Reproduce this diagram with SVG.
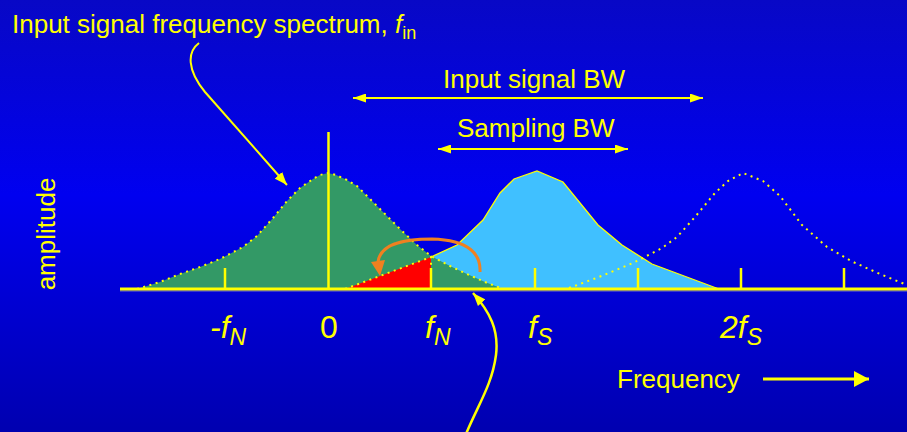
<svg xmlns="http://www.w3.org/2000/svg" width="907" height="432" viewBox="0 0 907 432">
<defs>
<linearGradient id="bg" x1="0" y1="0" x2="0" y2="1">
<stop offset="0" stop-color="#0808C6"/>
<stop offset="0.45" stop-color="#0000F0"/>
<stop offset="1" stop-color="#0000B0"/>
</linearGradient>
<marker id="ah" markerUnits="userSpaceOnUse" markerWidth="13" markerHeight="9" refX="13" refY="4.5" orient="auto-start-reverse"><path d="M0,0 L13,4.5 L0,9 z" fill="#FFFF00"/></marker>
<marker id="ah2" markerUnits="userSpaceOnUse" markerWidth="13" markerHeight="10" refX="13" refY="5" orient="auto"><path d="M0,0 L13,5 L0,10 z" fill="#FFFF00"/></marker>
<marker id="ah3" markerUnits="userSpaceOnUse" markerWidth="15" markerHeight="16" refX="15" refY="8" orient="auto"><path d="M0,0 L15,8 L0,16 z" fill="#FFFF00"/></marker>
</defs>
<style>
text{font-family:"Liberation Sans",Arial,sans-serif;fill:#FFFF00}
.t{font-size:26px}
.ax{font-size:32px}
.sub{font-size:23px;font-style:italic}
.it{font-style:italic}
.yl{stroke:#FFFF00;fill:none}
.dot{stroke:#FFFF00;fill:none;stroke-width:2;stroke-dasharray:2 4.5}
.tick{stroke:#FFFF00;stroke-width:2.5}
</style>
<rect width="907" height="432" fill="url(#bg)"/>

<g id="spectrum-fs">
<polygon points="345,289 431,257 457,245 483,220 500,193 514,179 537,171 563,182 598,225 622,245 652,264 719,289" fill="#40C0FF"/>
<polyline class="yl" stroke-width="1.3" points="431,257 457,245 483,220 500,193 514,179 537,171 563,182 598,225 622,245 652,264 719,289"/>
</g>

<g id="spectrum-base">
<path id="gcurve" d="M137,289 L160,282 L180,274 L200,267 L220,259 L243,247 L257,236 L273,218 L287,201 L300,188 L313,179 L320,175 L328,173 L336,175 L347,180 L357,186 L367,196 L383,212 L400,229 L417,245 L431,256 L450,266 L467,274 L485,282 L503,289 Z" fill="#339966"/>
</g>

<g id="alias">
<polygon points="345,289 431,257 431,289" fill="#FF0000"/>
<polyline class="dot" points="345,289 431,257 431,289"/>
</g>

<g id="spectrum-base-outline">
<polyline class="dot" points="137,289 160,282 180,274 200,267 220,259 243,247 257,236 273,218 287,201 300,188 313,179 320,175 328,173 336,175 347,180 357,186 367,196 383,212 400,229 417,245 431,256 450,266 467,274 485,282 503,289"/>
</g>

<g id="spectrum-2fs">
<polyline class="dot" points="569,288 599,277 633,263 662,248 677,237 695,217 715,193 728,181 743,173 763,181 780,196 802,225 827,247 851,261 880,274 907,285"/>
</g>

<g id="axis">
<line x1="120" y1="291" x2="907" y2="291" stroke="#7070C0" stroke-width="1"/>
<line x1="120" y1="289" x2="907" y2="289" stroke="#FFFF00" stroke-width="3"/>
<line x1="328.5" y1="132" x2="328.5" y2="289" stroke="#FFFF00" stroke-width="2.5"/>
<line class="tick" x1="225" y1="268" x2="225" y2="289"/>
<line class="tick" x1="431" y1="268" x2="431" y2="289"/>
<line class="tick" x1="535" y1="268" x2="535" y2="289"/>
<line class="tick" x1="638" y1="268" x2="638" y2="289"/>
<line class="tick" x1="741" y1="268" x2="741" y2="289"/>
<line class="tick" x1="844" y1="268" x2="844" y2="289"/>
</g>

<g id="fold-arrow">
<path d="M480,272 C481,255 470,240 432,239 C400,239 380,245 378,262" fill="none" stroke="#F08020" stroke-width="3"/>
<polygon points="371,262 385,260 380,276" fill="#F08020"/>
</g>

<g id="connectors">
<line class="yl" stroke-width="2" x1="353" y1="98" x2="703" y2="98" marker-start="url(#ah)" marker-end="url(#ah)"/>
<line class="yl" stroke-width="2" x1="438" y1="149" x2="628" y2="149" marker-start="url(#ah)" marker-end="url(#ah)"/>
<path class="yl" stroke-width="2" d="M199,43 C187,52 187,70 205,92 L287,185" marker-end="url(#ah2)"/>
<path class="yl" stroke-width="2.5" d="M466,434 C478,405 492,385 496,355 C499,330 490,312 473,293" marker-end="url(#ah2)"/>
<line class="yl" stroke-width="3" x1="763" y1="379" x2="869" y2="379" marker-end="url(#ah3)"/>
</g>

<g id="labels">
<text class="t" x="12" y="33">Input signal frequency spectrum, <tspan class="it">f</tspan><tspan font-size="18" dy="6">in</tspan></text>
<text class="t" x="443" y="88">Input signal BW</text>
<text class="t" x="457" y="137">Sampling BW</text>
<text class="t" transform="translate(55,234) rotate(-90)" text-anchor="middle">amplitude</text>
<text class="t" x="617" y="388">Frequency</text>
<text class="ax it" x="210" y="338">-f<tspan class="sub" dy="7">N</tspan></text>
<text class="ax" x="329" y="338" text-anchor="middle">0</text>
<text class="ax it" x="425" y="338">f<tspan class="sub" dy="7">N</tspan></text>
<text class="ax it" x="528" y="338">f<tspan class="sub" dy="7">S</tspan></text>
<text class="ax it" x="720" y="338">2f<tspan class="sub" dy="7">S</tspan></text>
</g>
</svg>
